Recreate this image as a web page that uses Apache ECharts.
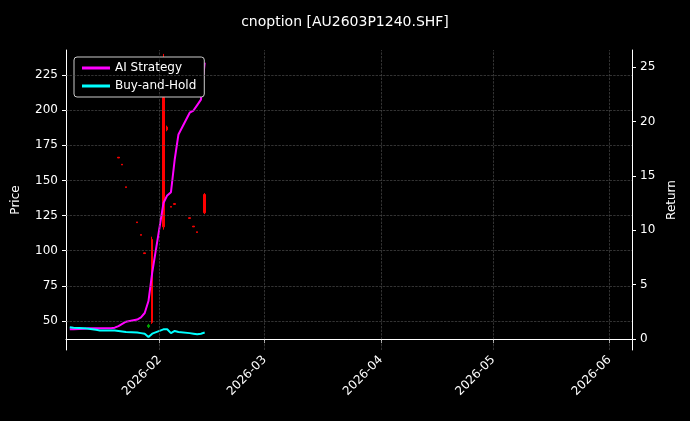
<!DOCTYPE html>
<html><head><meta charset="utf-8">
<script src="https://cdn.jsdelivr.net/npm/echarts@6/dist/echarts.min.js"></script>
<style>html,body{margin:0;background:#000}#c{width:690px;height:421px}</style>
</head><body><div id="c"></div>
<script>
const dates = ['2026-01-08','2026-01-09','2026-01-12','2026-01-13','2026-01-14','2026-01-15','2026-01-16','2026-01-19','2026-01-20','2026-01-21','2026-01-22','2026-01-23','2026-01-26','2026-01-27','2026-01-28','2026-01-29','2026-01-30','2026-02-02','2026-02-03','2026-02-04','2026-02-05','2026-02-06','2026-02-09','2026-02-10','2026-02-11','2026-02-12','2026-02-13'];
const aiReturn = [0.9,0.9,0.95,1.0,1.0,1.0,1.0,1.0,1.05,1.2,1.4,1.6,1.8,2.0,2.4,3.5,6.1,12.5,13.2,13.5,16.5,18.8,20.8,21,21.5,22,25.4];
const bhReturn = [1.1,1.05,1.0,0.95,0.9,0.85,0.8,0.8,0.8,0.75,0.7,0.65,0.6,0.55,0.5,0.2,0.5,0.9,0.9,0.55,0.75,0.65,0.55,0.5,0.45,0.5,0.6];
// candles: date, open, close, low, high
const candleDates = ['2026-01-21','2026-01-22','2026-01-23','2026-01-26','2026-01-27','2026-01-28','2026-01-29','2026-01-30','2026-02-02','2026-02-03','2026-02-04','2026-02-05','2026-02-09','2026-02-10','2026-02-11','2026-02-13'];
const openP  = [166,161,145,120,111,98,47,49,117,186,131,133,123,117,113,127];
const closeP = [166.5,161.5,145.5,120.5,111.5,98.5,46,108,209,188,131.5,133.5,123.5,117.5,113.5,140];
const lowP   = [166,161,145,120,111,98,45,48,115,185,131,133,123,117,113,126];
const highP  = [166.5,161.5,145.5,120.5,111.5,98.5,48,110,240,189,131.5,133.5,123.5,117.5,113.5,141];
const monthTicks = ['2026-02-01','2026-03-01','2026-04-01','2026-05-01','2026-06-01'];
const priceTicks = [50, 75, 100, 125, 150, 175, 200, 225];
const returnTicks = [0, 5, 10, 15, 20, 25];

const ts = d => Date.UTC(+d.slice(0, 4), +d.slice(5, 7) - 1, +d.slice(8, 10));
const fmt = v => { const t = new Date(v); return t.getUTCFullYear() + '-' + String(t.getUTCMonth() + 1).padStart(2, '0'); };
const candles = candleDates.map((d, i) => [ts(d), openP[i], closeP[i], lowP[i], highP[i]]);
const tickVals = monthTicks.map(ts);
const chart = echarts.init(document.getElementById('c'));
const white = '#ffffff';
const font = 'DejaVu Sans';
chart.setOption({
  backgroundColor: '#000',
  animation: false,
  title: { text: 'cnoption [AU2603P1240.SHF]', left: 'center', top: 10,
    textStyle: { color: white, fontSize: 14, fontWeight: 'normal', fontFamily: font } },
  legend: {
    left: 74, top: 57, orient: 'vertical', itemGap: 6,
    backgroundColor: '#000', borderColor: '#ccc', borderWidth: 1, borderRadius: 3, padding: [5, 8],
    itemWidth: 28, itemHeight: 3,
    textStyle: { color: white, fontSize: 12, fontFamily: font },
    data: [{ name: 'AI Strategy', icon: 'rect' }, { name: 'Buy-and-Hold', icon: 'rect' }]
  },
  grid: { left: 66, right: 58, top: 50, bottom: 71 },
  xAxis: {
    type: 'value', min: ts('2026-01-07'), max: ts('2026-06-07'),
    axisLine: { lineStyle: { color: white } },
    axisTick: { customValues: tickVals, length: 4, lineStyle: { color: white } },
    axisLabel: { customValues: tickVals, rotate: 45, color: white, fontSize: 12, fontFamily: font, formatter: fmt },
    splitLine: { show: false }
  },
  yAxis: [{
    type: 'value', name: 'Price', nameLocation: 'middle', nameGap: 44, min: 29.4, max: 242.8,
    nameTextStyle: { color: white, fontSize: 12, fontFamily: font },
    axisLine: { show: true, lineStyle: { color: white } },
    axisTick: { show: true, length: 4, customValues: priceTicks },
    axisLabel: { color: white, fontSize: 12, fontFamily: font, customValues: priceTicks },
    splitLine: { show: false }
  }, {
    type: 'value', name: 'Return', nameLocation: 'middle', nameGap: 30, min: -1, max: 26.56,
    nameTextStyle: { color: white, fontSize: 12, fontFamily: font },
    axisLine: { show: true, lineStyle: { color: white } },
    axisTick: { show: true, length: 4, customValues: returnTicks },
    axisLabel: { color: white, fontSize: 12, fontFamily: font, customValues: returnTicks },
    splitLine: { show: false }
  }],
  series: [{
    type: 'candlestick', yAxisIndex: 0, barWidth: 2, data: candles,
    itemStyle: { color: '#ff0000', color0: '#00aa00', borderColor: '#ff0000', borderColor0: '#00aa00', borderWidth: 1 },
    markLine: {
      silent: true, symbol: 'none', label: { show: false },
      lineStyle: { color: '#555', type: 'dashed', width: 0.6 },
      data: tickVals.map(v => ({ xAxis: v })).concat(priceTicks.map(v => ({ yAxis: v })))
    }
  }, {
    name: 'AI Strategy', type: 'line', yAxisIndex: 1, showSymbol: false,
    data: dates.map((d, i) => [ts(d), aiReturn[i]]),
    lineStyle: { color: '#ff00ff', width: 2 }, itemStyle: { color: '#ff00ff' }
  }, {
    name: 'Buy-and-Hold', type: 'line', yAxisIndex: 1, showSymbol: false,
    data: dates.map((d, i) => [ts(d), bhReturn[i]]),
    lineStyle: { color: '#00ffff', width: 2 }, itemStyle: { color: '#00ffff' }
  }]
});
</script></body></html>
